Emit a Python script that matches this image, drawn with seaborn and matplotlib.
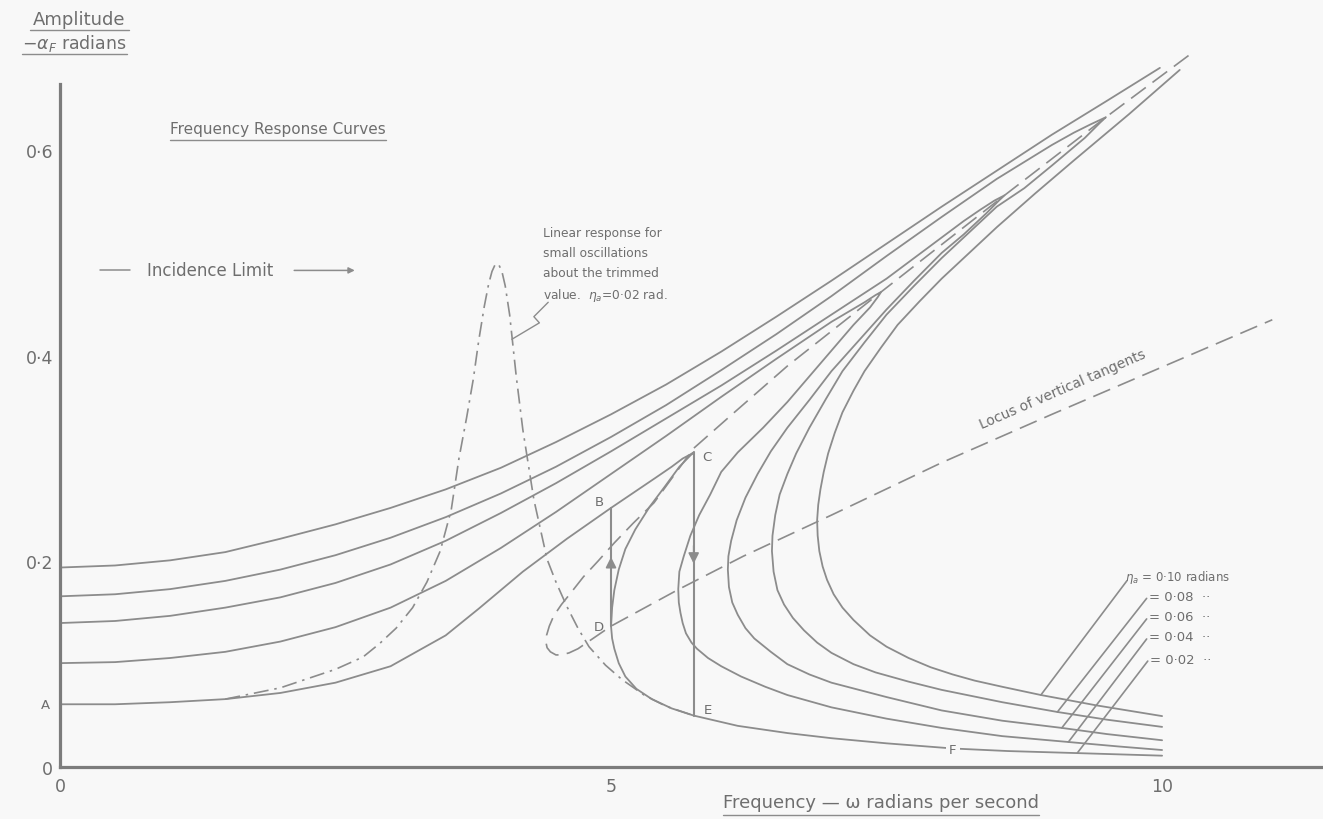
import matplotlib
matplotlib.use("Agg")
import matplotlib.pyplot as plt
from matplotlib.lines import Line2D
from matplotlib.transforms import IdentityTransform
import pandas as pd
import seaborn as sns

# ------------------------------------------------------------------
# Frequency response of the short-period pitching motion
# omega in rad/s, amplitude -alpha_F in radians
# ------------------------------------------------------------------
eta_labels = ["0·10", "0·08", "0·06", "0·04", "0·02"]

# eta_a = 0.10 : upper branch (left open at the top) and returning branch
e10_up_x = [0, 0.5, 1.0, 1.5, 2.0, 2.5, 3.0, 3.5, 4.0, 4.5, 5.0, 5.5, 6.0, 6.5, 7.0, 7.5, 8.0, 8.5, 9.0, 9.5, 9.98]
e10_up_y = [0.194, 0.196, 0.201, 0.209, 0.222, 0.236, 0.252, 0.270, 0.291, 0.316, 0.343, 0.372, 0.404, 0.438,
            0.473, 0.509, 0.545, 0.580, 0.615, 0.648, 0.680]
e10_back_x = [10.16, 9.7, 9.2, 8.85, 8.5, 8.25, 8.0, 7.8, 7.6, 7.45, 7.3, 7.2, 7.1, 7.03, 6.97, 6.93, 6.9, 6.88,
              6.87, 6.875, 6.89, 6.92, 6.96, 7.02, 7.1, 7.2, 7.35, 7.5, 7.7, 7.9, 8.1, 8.3, 8.55, 8.9, 9.4, 10.0]
e10_back_y = [0.678, 0.635, 0.590, 0.558, 0.525, 0.500, 0.475, 0.453, 0.430, 0.408, 0.385, 0.366, 0.345, 0.325,
              0.305, 0.287, 0.270, 0.255, 0.240, 0.225, 0.210, 0.195, 0.182, 0.168, 0.155, 0.143, 0.128, 0.117,
              0.106, 0.097, 0.090, 0.084, 0.078, 0.070, 0.060, 0.0495]

# eta_a = 0.08
e08_up_x = [0, 0.5, 1.0, 1.5, 2.0, 2.5, 3.0, 3.5, 4.0, 4.5, 5.0, 5.5, 6.0, 6.5, 7.0, 7.5, 8.0, 8.5, 9.0, 9.2,
            9.35, 9.45, 9.49]
e08_up_y = [0.166, 0.168, 0.173, 0.181, 0.192, 0.206, 0.223, 0.243, 0.266, 0.292, 0.321, 0.352, 0.386, 0.421,
            0.458, 0.497, 0.535, 0.572, 0.605, 0.617, 0.625, 0.630, 0.632]
e08_back_x = [9.49, 9.44, 9.3, 9.0, 8.75, 8.5, 8.25, 8.0, 7.75, 7.5, 7.3, 7.1, 6.95, 6.8, 6.68, 6.6, 6.53, 6.49,
              6.465, 6.46, 6.475, 6.51, 6.57, 6.65, 6.75, 6.87, 7.0, 7.2, 7.4, 7.7, 8.0, 8.55, 9.05, 9.5, 10.0]
e08_back_y = [0.632, 0.627, 0.612, 0.585, 0.563, 0.545, 0.520, 0.495, 0.468, 0.440, 0.413, 0.385, 0.358, 0.330,
              0.305, 0.285, 0.265, 0.245, 0.225, 0.210, 0.190, 0.172, 0.158, 0.145, 0.133, 0.121, 0.111, 0.100,
              0.092, 0.083, 0.075, 0.063, 0.0535, 0.046, 0.039]

# eta_a = 0.06
e06_up_x = [0, 0.5, 1.0, 1.5, 2.0, 2.5, 3.0, 3.5, 4.0, 4.5, 5.0, 5.5, 6.0, 6.5, 7.0, 7.5, 8.0, 8.2, 8.35, 8.48,
            8.57]
e06_up_y = [0.140, 0.142, 0.147, 0.155, 0.165, 0.179, 0.197, 0.220, 0.247, 0.276, 0.307, 0.339, 0.371, 0.405,
            0.440, 0.475, 0.515, 0.531, 0.542, 0.551, 0.556]
e06_back_x = [8.57, 8.52, 8.4, 8.2, 8.0, 7.75, 7.5, 7.25, 7.0, 6.8, 6.6, 6.45, 6.33, 6.22, 6.14, 6.09, 6.065, 6.06,
              6.07, 6.1, 6.15, 6.22, 6.3, 6.45, 6.6, 6.8, 7.0, 7.5, 8.0, 8.55, 9.09, 9.5, 10.0]
e06_back_y = [0.556, 0.551, 0.538, 0.518, 0.500, 0.473, 0.445, 0.415, 0.385, 0.357, 0.330, 0.307, 0.285, 0.262,
              0.240, 0.220, 0.205, 0.192, 0.175, 0.160, 0.148, 0.135, 0.125, 0.112, 0.100, 0.090, 0.082, 0.068,
              0.055, 0.045, 0.038, 0.032, 0.026]

# eta_a = 0.04
e04_up_x = [0, 0.5, 1.0, 1.5, 2.0, 2.5, 3.0, 3.5, 4.0, 4.5, 5.0, 5.5, 6.0, 6.5, 7.0, 7.3, 7.4, 7.45]
e04_up_y = [0.101, 0.102, 0.106, 0.112, 0.122, 0.136, 0.155, 0.181, 0.213, 0.248, 0.285, 0.322, 0.360, 0.397,
            0.433, 0.452, 0.459, 0.462]
e04_back_x = [7.45, 7.42, 7.35, 7.2, 7.0, 6.8, 6.6, 6.38, 6.15, 6.0, 5.9, 5.8, 5.72, 5.66, 5.62, 5.61, 5.615,
              5.63, 5.65, 5.68, 5.73, 5.78, 5.88, 6.0, 6.18, 6.4, 6.6, 7.0, 7.5, 8.0, 8.55, 9.15, 9.6, 10.0]
e04_back_y = [0.462, 0.457, 0.447, 0.430, 0.405, 0.380, 0.355, 0.330, 0.306, 0.287, 0.265, 0.245, 0.225, 0.205,
              0.190, 0.173, 0.160, 0.150, 0.140, 0.130, 0.121, 0.115, 0.106, 0.098, 0.088, 0.078, 0.070, 0.058,
              0.047, 0.038, 0.030, 0.0243, 0.020, 0.0165]

# eta_a = 0.02 (path A - B - C - D - E - F)
e02_up_x = [0, 0.5, 1.0, 1.5, 2.0, 2.5, 3.0, 3.5, 3.8, 4.2, 4.6, 5.0, 5.4, 5.55, 5.65, 5.72, 5.75]
e02_up_y = [0.061, 0.061, 0.063, 0.066, 0.072, 0.082, 0.098, 0.128, 0.154, 0.190, 0.222, 0.252, 0.281, 0.292,
            0.300, 0.304, 0.306]
e02_back_x = [5.75, 5.72, 5.62, 5.49, 5.35, 5.22, 5.13, 5.07, 5.03, 5.01, 5.0, 5.01, 5.03, 5.07, 5.13, 5.23,
              5.37, 5.55, 5.75, 6.15, 6.6, 7.0, 7.5, 8.1, 8.6, 9.23, 10.0]
e02_back_y = [0.306, 0.303, 0.292, 0.273, 0.253, 0.231, 0.212, 0.192, 0.172, 0.155, 0.137, 0.125, 0.115, 0.101,
              0.088, 0.076, 0.066, 0.057, 0.050, 0.040, 0.033, 0.028, 0.023, 0.018, 0.0155, 0.0135, 0.011]

# linear response for small oscillations about the trim, eta_a = 0.02 rad
lin_x = [1.5, 2.0, 2.5, 2.75, 2.9, 3.05, 3.2, 3.33, 3.45, 3.55, 3.62, 3.69, 3.75, 3.8, 3.85, 3.89, 3.92, 3.95,
         3.98, 4.01, 4.04, 4.08, 4.14, 4.2, 4.3, 4.42, 4.5, 4.6, 4.7, 4.8, 4.95, 5.1, 5.3, 5.5, 5.75]
lin_y = [0.066, 0.077, 0.095, 0.107, 0.120, 0.135, 0.155, 0.180, 0.210, 0.250, 0.300, 0.340, 0.377, 0.415,
         0.448, 0.470, 0.482, 0.489, 0.489, 0.482, 0.468, 0.440, 0.380, 0.328, 0.260, 0.202, 0.180, 0.156,
         0.135, 0.117, 0.099, 0.085, 0.070, 0.059, 0.050]

# locus of vertical tangents (fold points of every curve)
locus_x = [10.24, 9.49, 8.57, 7.45, 6.6, 6.12, 5.75, 5.39, 5.2, 5.03, 4.88, 4.75, 4.64, 4.55, 4.48, 4.44, 4.415,
           4.41, 4.42, 4.45, 4.5, 4.55, 4.62, 4.7, 4.85, 5.0, 5.6, 6.2, 7.0, 8.0, 9.0, 10.0, 11.0]
locus_y = [0.692, 0.632, 0.556, 0.462, 0.390, 0.345, 0.310, 0.257, 0.237, 0.218, 0.200, 0.185, 0.170, 0.158,
           0.147, 0.137, 0.128, 0.121, 0.116, 0.112, 0.109, 0.109, 0.111, 0.115, 0.126, 0.137, 0.172, 0.205,
           0.245, 0.296, 0.343, 0.389, 0.435]

# jumps of the eta_a = 0.02 curve
jump_up_x, jump_up_y = [5.0, 5.0], [0.137, 0.252]       # D -> B
jump_down_x, jump_down_y = [5.75, 5.75], [0.306, 0.050]  # C -> E

point_labels = {"A": (-0.13, 0.061), "B": (4.89, 0.258), "C": (5.87, 0.302),
                "D": (4.89, 0.137), "E": (5.88, 0.056), "F": (8.1, 0.017)}

# leader lines from the eta_a legend to each curve: (label end, curve point)
leader_top = [(9.68, 0.181), (9.86, 0.164), (9.86, 0.144), (9.86, 0.1245), (9.87, 0.103)]
leader_bottom = [(8.9, 0.070), (9.05, 0.0535), (9.09, 0.038), (9.15, 0.0243), (9.23, 0.0135)]

incidence_limit = 0.483

x_ticks, x_tick_labels = [0, 5, 10], ["0", "5", "10"]
y_ticks, y_tick_labels = [0, 0.2, 0.4, 0.6], ["0", "0·2", "0·4", "0·6"]

# ------------------------------------------------------------------
sns.set_theme(style="white")
plt.rcParams["font.family"] = ["DejaVu Sans"]

INK = "#8c8c8c"
TXT = "#6e6e6e"
BG = "#f8f8f8"

fig = plt.figure(figsize=(13.23, 8.20), dpi=100, facecolor=BG)
ax = fig.add_axes([0, 0, 1, 1], facecolor=BG)

segments = [
    ("0·10 upper", e10_up_x, e10_up_y),
    ("0·10 back", e10_back_x, e10_back_y),
    ("0·08", e08_up_x + e08_back_x[1:], e08_up_y + e08_back_y[1:]),
    ("0·06", e06_up_x + e06_back_x[1:], e06_up_y + e06_back_y[1:]),
    ("0·04", e04_up_x + e04_back_x[1:], e04_up_y + e04_back_y[1:]),
    ("0·02", e02_up_x + e02_back_x[1:], e02_up_y + e02_back_y[1:]),
]
rows = []
for name, xs, ys in segments:
    for i, (x, y) in enumerate(zip(xs, ys)):
        rows.append((name, i, x, y))
curves = pd.DataFrame(rows, columns=["seg", "order", "omega", "amp"])

sns.lineplot(data=curves, x="omega", y="amp", units="seg", estimator=None, sort=False,
             color=INK, linewidth=1.3, ax=ax)
sns.lineplot(x=lin_x, y=lin_y, sort=False, estimator=None, color=INK, linewidth=1.2,
             linestyle=(0, (9, 3.5, 1.5, 3.5)), ax=ax)
sns.lineplot(x=locus_x, y=locus_y, sort=False, estimator=None, color=INK, linewidth=1.2,
             linestyle=(0, (11, 5)), ax=ax)
sns.lineplot(x=jump_up_x, y=jump_up_y, sort=False, estimator=None, color=INK, linewidth=1.5, ax=ax)
sns.lineplot(x=jump_down_x, y=jump_down_y, sort=False, estimator=None, color=INK, linewidth=1.5, ax=ax)

# arrow heads on the jumps
ax.annotate("", xy=(jump_up_x[0], 0.207), xytext=(jump_up_x[0], 0.185),
            arrowprops=dict(arrowstyle="-|>", color=INK, lw=1.2, mutation_scale=16))
ax.annotate("", xy=(jump_down_x[0], 0.195), xytext=(jump_down_x[0], 0.218),
            arrowprops=dict(arrowstyle="-|>", color=INK, lw=1.2, mutation_scale=16))

# leaders to the eta_a labels
for (x0, y0), (x1, y1) in zip(leader_top, leader_bottom):
    ax.plot([x0, x1], [y0, y1], color=INK, lw=1.2)

ax.set_xlim(-0.544, 11.46)
ax.set_ylim(-0.0506, 0.747)
ax.set_xlabel("")
ax.set_ylabel("")

for s in ("top", "right"):
    ax.spines[s].set_visible(False)
ax.spines["left"].set_position(("data", 0))
ax.spines["left"].set_bounds(0, 0.664)
ax.spines["bottom"].set_position(("data", 0))
ax.spines["bottom"].set_bounds(0, 11.5)
for s in ("left", "bottom"):
    ax.spines[s].set_color("#7c7c7c")
    ax.spines[s].set_linewidth(2.3)

ax.set_xticks(x_ticks)
ax.set_xticklabels(x_tick_labels)
ax.set_yticks(y_ticks)
ax.set_yticklabels(y_tick_labels)
ax.tick_params(axis="both", length=0, labelsize=12.5, labelcolor=TXT)
ax.tick_params(axis="x", pad=7)
ax.tick_params(axis="y", pad=5)

# ---- text ----
def underline(t, gap=3, lw=1.0, extend=0):
    fig.canvas.draw()
    bb = t.get_window_extent()
    y = bb.y0 - gap
    fig.add_artist(Line2D([bb.x0 - extend, bb.x1 + extend], [y, y], transform=IdentityTransform(),
                          color=INK, lw=lw))

t1 = fig.text(33 / 1323, 1 - 20 / 820, "Amplitude", fontsize=13, color=TXT, ha="left", va="center")
underline(t1, gap=2, extend=3)
t2 = fig.text(22 / 1323, 1 - 44 / 820, r"$-\alpha_{F}$ radians", fontsize=12.5, color=TXT,
              ha="left", va="center")
underline(t2, gap=0)

t3 = ax.text(1.0, 0.621, "Frequency Response Curves", fontsize=11, color=TXT, ha="left", va="center")
underline(t3, gap=4)

t4 = ax.text(7.45, -0.034, "Frequency — ω radians per second", fontsize=13, color=TXT,
             ha="center", va="center")
underline(t4, gap=4)

# incidence limit
ax.text(1.36, incidence_limit, "Incidence Limit", fontsize=12, color=TXT, ha="center", va="center")
ax.plot([0.36, 0.64], [incidence_limit, incidence_limit], color=INK, lw=1.1)
ax.annotate("", xy=(2.7, incidence_limit), xytext=(2.1, incidence_limit),
            arrowprops=dict(arrowstyle="-|>", color=INK, lw=1.1, mutation_scale=9))

# note on the linear response
note_lines = ["Linear response for", "small oscillations", "about the trimmed"]
for k, line in enumerate(note_lines):
    ax.text(4.38, 0.520 - 0.0195 * k, line, fontsize=8.8, color=TXT, ha="left", va="center")
ax.text(4.38, 0.460, r"value.  $\eta_a$=0·02 rad.", fontsize=8.8, color=TXT, ha="left", va="center")
ax.plot([4.43, 4.30, 4.35, 4.10], [0.452, 0.438, 0.432, 0.416], color=INK, lw=1.0)

# locus label
ax.text(9.1, 0.368, "Locus of vertical tangents", fontsize=10, color=TXT, ha="center", va="center",
        rotation=23.5, rotation_mode="anchor")

# eta_a legend
ax.text(leader_top[0][0] - 0.02, leader_top[0][1] + 0.004, r"$\eta_a$" + " = 0·10 radians",
        fontsize=8.5, color=TXT, ha="left", va="center")
for (x0, y0), lab in zip(leader_top[1:], eta_labels[1:]):
    ax.text(x0 + 0.02, y0 + 0.002, "= " + lab + "  ··", fontsize=9.5, color=TXT, ha="left", va="center")

# path letters
for letter, (lx, ly) in point_labels.items():
    kw = dict(fontsize=9.5, color=TXT, ha="center", va="center")
    if letter == "F":
        kw["bbox"] = dict(boxstyle="square,pad=0.25", fc=BG, ec="none")
    ax.text(lx, ly, letter, **kw)

fig.savefig("out.png", dpi=100, facecolor=BG)
